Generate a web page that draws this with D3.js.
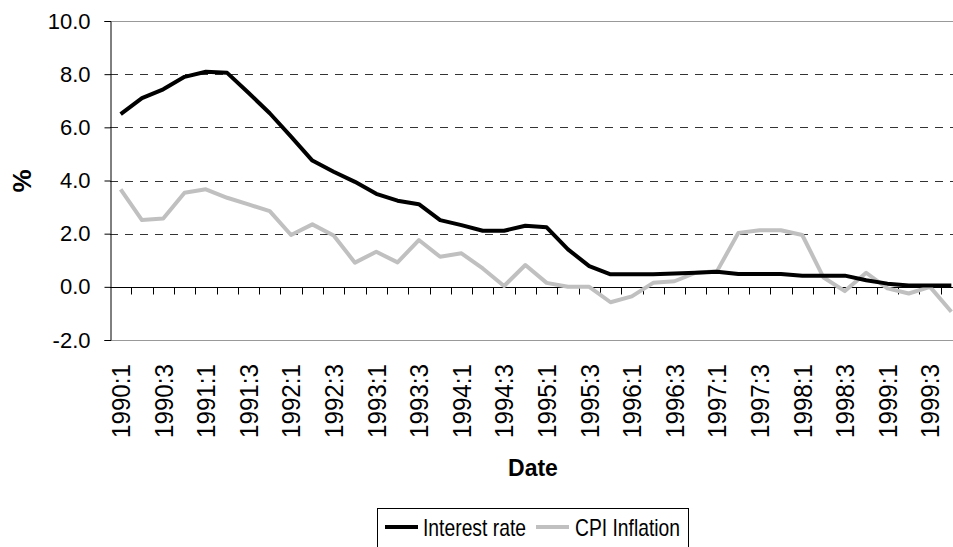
<!DOCTYPE html>
<html>
<head>
<meta charset="utf-8">
<script src="https://cdn.jsdelivr.net/npm/d3@7"></script>
<style>
  body { margin: 0; background: #fff; }
  svg { display: block; font-family: Arial, "Liberation Sans", sans-serif; }
</style>
</head>
<body>
<svg width="953" height="547"></svg>
<script>
// quarters 1990:1 .. 1999:4
var years = d3.range(1990, 2000);
var quarters = [1, 2, 3, 4];
var dates = [];
years.forEach(function(y) { quarters.forEach(function(q) { dates.push(y + ":" + q); }); });

var interestRate = [6.5, 7.1, 7.43, 7.9, 8.09, 8.05, 7.3, 6.53, 5.65, 4.75,
                    4.33, 3.95, 3.5, 3.24, 3.11, 2.51, 2.32, 2.11, 2.11, 2.3,
                    2.24, 1.41, 0.78, 0.47, 0.47, 0.47, 0.5, 0.53, 0.57, 0.48,
                    0.48, 0.48, 0.42, 0.42, 0.42, 0.25, 0.12, 0.05, 0.05, 0.05];

var cpiInflation = [3.67, 2.51, 2.57, 3.54, 3.67, 3.35, 3.1, 2.85, 1.95, 2.35,
                    1.93, 0.91, 1.32, 0.92, 1.76, 1.13, 1.26, 0.69, 0.03, 0.82,
                    0.15, 0.0, 0.0, -0.58, -0.36, 0.15, 0.21, 0.53, 0.59, 2.03,
                    2.13, 2.13, 1.95, 0.35, -0.16, 0.53, -0.06, -0.25, 0.0, -0.94];

var yTicks = [-2, 0, 2, 4, 6, 8, 10];

var series = [
  { name: "Interest rate", values: interestRate, color: "#000000" },
  { name: "CPI Inflation", values: cpiInflation, color: "#c0c0c0" }
];

var svg = d3.select("svg");

var plotLeft = 110, plotTop = 21, plotBottom = 340, step = 21.3;
var plotRight = plotLeft + step * dates.length;

var x = d3.scaleBand().domain(dates).range([plotLeft, plotRight]);
var y = d3.scaleLinear().domain([-2, 10]).range([plotBottom, plotTop]);

// excel style: plain hyphen for negatives
var fmt = function(d) { return d.toFixed(1); };

// dashed gridlines
svg.append("g")
  .selectAll("line")
  .data(yTicks.filter(function(d) { return d > 0 && d < 10; }))
  .enter().append("line")
  .attr("x1", plotLeft).attr("x2", plotRight)
  .attr("y1", function(d) { return Math.round(y(d)) + 0.5; })
  .attr("y2", function(d) { return Math.round(y(d)) + 0.5; })
  .attr("stroke", "#333")
  .attr("stroke-dasharray", "8,7");

// plot border top / bottom (grey)
[10, -2].forEach(function(v) {
  svg.append("line")
    .attr("x1", plotLeft).attr("x2", plotRight)
    .attr("y1", Math.round(y(v)) + 0.5).attr("y2", Math.round(y(v)) + 0.5)
    .attr("stroke", "#999");
});

// y axis
var yAxis = svg.append("g")
  .attr("transform", "translate(" + (plotLeft + 0.5) + ",0)")
  .call(d3.axisLeft(y).tickValues(yTicks).tickFormat(fmt).tickSize(6).tickPadding(14));
yAxis.select(".domain").attr("stroke", "#000");
yAxis.selectAll(".tick line").attr("stroke", "#000");
yAxis.selectAll("text")
  .attr("font-size", 22)
  .attr("fill", "#000")
  .attr("font-family", "Arial, 'Liberation Sans', sans-serif");

// x axis at zero, ticks on category boundaries
var zeroY = Math.round(y(0)) + 0.5;
svg.append("line")
  .attr("x1", plotLeft).attr("x2", plotRight)
  .attr("y1", zeroY).attr("y2", zeroY)
  .attr("stroke", "#000");
svg.append("g")
  .selectAll("line")
  .data(dates.slice(1))
  .enter().append("line")
  .attr("x1", function(d) { return Math.round(x(d)) + 0.5; })
  .attr("x2", function(d) { return Math.round(x(d)) + 0.5; })
  .attr("y1", zeroY).attr("y2", zeroY + 7)
  .attr("stroke", "#000");

// x labels (every other quarter)
svg.append("g")
  .selectAll("text")
  .data(dates.filter(function(d, i) { return i % 2 === 0; }))
  .enter().append("text")
  .attr("transform", function(d) {
    return "translate(" + (x(d) + x.bandwidth() / 2) + ",364) rotate(-90)";
  })
  .attr("dy", "0.37em")
  .attr("text-anchor", "end")
  .attr("font-size", 25)
  .attr("textLength", 74)
  .attr("lengthAdjust", "spacingAndGlyphs")
  .attr("fill", "#000")
  .text(function(d) { return d; });

// lines
var line = d3.line()
  .x(function(d, i) { return x(dates[i]) + x.bandwidth() / 2; })
  .y(function(d) { return y(d); });

svg.append("g")
  .selectAll("path")
  .data(series.slice().reverse())
  .enter().append("path")
  .attr("d", function(d) { return line(d.values); })
  .attr("fill", "none")
  .attr("stroke", function(d) { return d.color; })
  .attr("stroke-width", 4)
  .attr("stroke-linejoin", "round");

// axis titles
svg.append("text")
  .attr("transform", "translate(22,181) rotate(-90)")
  .attr("dy", "0.35em")
  .attr("text-anchor", "middle")
  .attr("font-size", 26)
  .attr("font-weight", "bold")
  .text("%");

svg.append("text")
  .attr("x", 533).attr("y", 468)
  .attr("dy", "0.35em")
  .attr("text-anchor", "middle")
  .attr("font-size", 23)
  .attr("font-weight", "bold")
  .text("Date");

// legend
var legend = svg.append("g");
legend.append("rect")
  .attr("x", 377.5).attr("y", 508.5)
  .attr("width", 311).attr("height", 60)
  .attr("fill", "#fff").attr("stroke", "#000");

var legendItems = [
  { s: series[0], lx: 385, tx: 423, w: 103 },
  { s: series[1], lx: 536, tx: 575, w: 105 }
];
legendItems.forEach(function(it) {
  legend.append("line")
    .attr("x1", it.lx).attr("x2", it.lx + 33)
    .attr("y1", 527).attr("y2", 527)
    .attr("stroke", it.s.color).attr("stroke-width", 4);
  legend.append("text")
    .attr("x", it.tx).attr("y", 527)
    .attr("dy", "0.36em")
    .attr("font-size", 24)
    .attr("textLength", it.w)
    .attr("lengthAdjust", "spacingAndGlyphs")
    .attr("fill", "#000")
    .text(it.s.name);
});
</script>
</body>
</html>
